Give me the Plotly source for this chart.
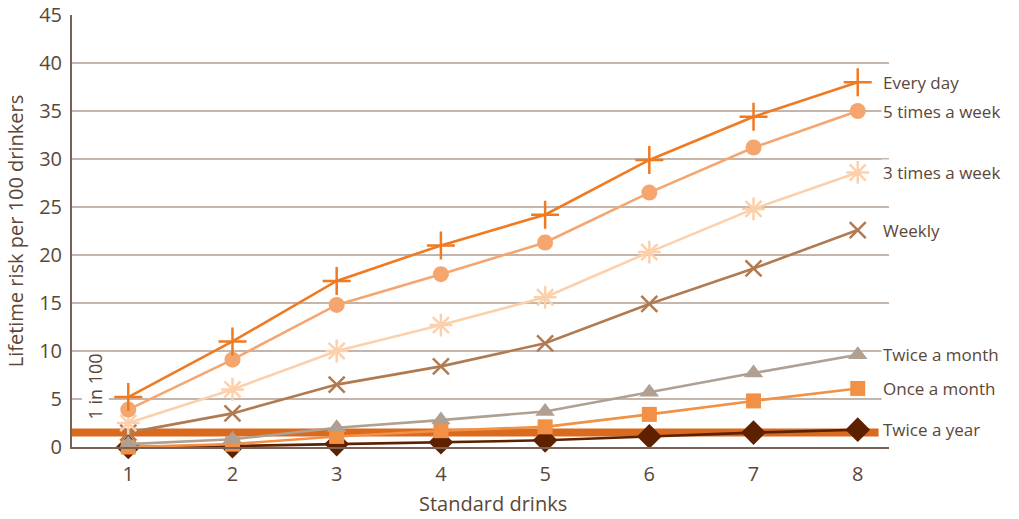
import plotly.graph_objects as go

drinks = [1, 2, 3, 4, 5, 6, 7, 8]

every_day = [5.2, 11.0, 17.3, 21.0, 24.2, 29.9, 34.4, 38.0]
five_week = [3.9, 9.1, 14.8, 18.0, 21.3, 26.5, 31.2, 35.0]
three_week = [2.5, 6.0, 10.0, 12.7, 15.6, 20.3, 24.8, 28.6]
weekly = [1.5, 3.5, 6.5, 8.4, 10.8, 14.9, 18.6, 22.6]
twice_month = [0.3, 0.8, 2.0, 2.8, 3.7, 5.7, 7.7, 9.6]
once_month = [0.0, 0.3, 1.1, 1.7, 2.1, 3.4, 4.8, 6.1]
twice_year = [0.0, 0.1, 0.3, 0.5, 0.7, 1.1, 1.5, 1.8]

one_in_100 = 1.5

series = [
    ("Every day", every_day, "#F07A22", "cross-thin-open", 20),
    ("5 times a week", five_week, "#F5A66F", "circle", 16),
    ("3 times a week", three_week, "#FDD0AC", "asterisk-open", 19),
    ("Weekly", weekly, "#B17B52", "x-thin-open", 16),
    ("Twice a month", twice_month, "#B0A092", "triangle-up", 17),
    ("Once a month", once_month, "#F29145", "square", 15),
    ("Twice a year", twice_year, "#5E2100", "diamond", 19),
]

text_color = "#5B4738"
font_family = "Open Sans, Noto Sans, sans-serif"

fig = go.Figure()
for name, vals, color, sym, size in reversed(series):
    thin = sym.endswith("-open")
    fig.add_trace(go.Scatter(
        x=drinks, y=vals, name=name, mode="lines+markers",
        line=dict(color=color, width=2.6),
        marker=dict(symbol=sym, size=size, color=color,
                    line=dict(color=color, width=2.5 if thin else 0)),
        showlegend=False, cliponaxis=False,
    ))

# 1 in 100 reference band
fig.add_shape(type="line", xref="x", yref="y", x0=0.46, x1=8.2,
              y0=one_in_100, y1=one_in_100,
              line=dict(color="#DA6A1E", width=8), layer="between")

fig.add_annotation(x=0.68, y=6.3, xref="x", yref="y", text="1 in 100",
                   textangle=-90, showarrow=False, bgcolor="white",
                   font=dict(size=18, color=text_color, family=font_family))

for name, vals, color, sym, size in series:
    fig.add_annotation(x=8, y=vals[-1], xref="x", yref="y", text=name,
                       xanchor="left", xshift=23, showarrow=False,
                       bgcolor="white", borderpad=1,
                       font=dict(size=17, color=text_color, family=font_family))

fig.add_annotation(x=4.5, y=-0.095, xref="x", yref="paper",
                   text="Standard drinks", showarrow=False, yanchor="top",
                   font=dict(size=20, color=text_color, family=font_family))

fig.update_layout(
    width=1019, height=519,
    margin=dict(l=72, r=130, t=15, b=72),
    paper_bgcolor="white", plot_bgcolor="white",
    font=dict(family=font_family, color=text_color),
    xaxis=dict(range=[0.46, 8.3], tickvals=drinks, showgrid=False,
               zeroline=False, showline=True, linecolor="#7A6355", linewidth=2,
               ticks="outside", ticklen=8, tickcolor="rgba(0,0,0,0)",
               automargin=False,
               tickfont=dict(size=20, color=text_color, family=font_family)),
    yaxis=dict(range=[0, 45], dtick=5, showgrid=True, gridcolor="#C4B6AC",
               gridwidth=1.5, zeroline=False, showline=True,
               linecolor="#7A6355", linewidth=2,
               ticks="outside", ticklen=4, tickcolor="rgba(0,0,0,0)",
               automargin=False,
               tickfont=dict(size=20, color=text_color, family=font_family),
               title=dict(text="Lifetime risk per 100 drinkers", standoff=10,
                          font=dict(size=20, color=text_color, family=font_family))),
)

fig.write_html("out.html", config={"displayModeBar": False},
               post_script="document.body.style.margin='0';document.body.style.overflow='hidden';")
